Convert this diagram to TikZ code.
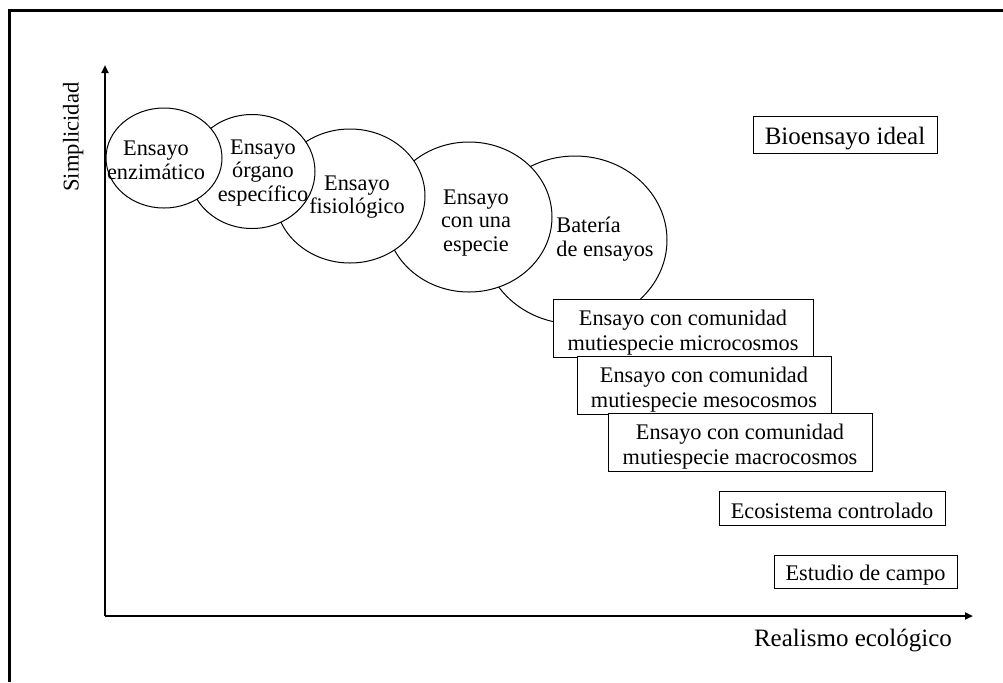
\documentclass[tikz,border=0pt]{standalone}
\usepackage{fontspec}
\setmainfont{Liberation Serif}
\usetikzlibrary{shapes.geometric,arrows.meta}

\tikzset{
  bubble/.style={ellipse, draw=black, line width=0.5pt, fill=white, inner sep=0pt, outer sep=0pt},
  stagebox/.style={rectangle, draw=black, line width=0.5pt, fill=white, inner sep=0pt, outer sep=0pt},
  boxtext/.style={align=center, inner sep=0pt, font=\fontsize{11.15}{12.5}\selectfont},
  bigtext/.style={boxtext, font=\fontsize{12.5}{14}\selectfont},
  bubbletext/.style={align=center, inner sep=0pt, font=\fontsize{11.15}{11.8}\selectfont},
  axis/.style={line width=1pt, -{Triangle[length=4pt,width=3.5pt]}},
  frame/.style={line width=1.5pt}
}

\begin{document}
\begin{tikzpicture}[x=0.5pt, y=-0.5pt]
  \useasboundingbox (0,0) rectangle (1003,682);

  % outer frame (left and top edges)
  \draw[frame] (9,682) -- (9,10) -- (1003,10);

  % axes
  \coordinate (origin) at (105,616);
  \coordinate (ytip) at (105,65);
  \coordinate (xtip) at (973,616);
  \draw[axis] (origin) -- (ytip);
  \draw[axis] (origin) -- (xtip);
  \node[rotate=90, anchor=base, inner sep=0pt, font=\fontsize{11.3}{13}\selectfont] (ylabel) at (78.5,137) {Simplicidad};
  \node[anchor=base, inner sep=0pt, font=\fontsize{12.5}{14}\selectfont] (xlabel) at (853,646) {Realismo ecológico};

  % overlapping bubbles, drawn from back to front
  \node[bubble, minimum width=92pt, minimum height=84pt] (bat) at (575,240) {};
  \node[bubble, minimum width=83pt, minimum height=75pt] (esp) at (469,217) {};
  \node[bubble, minimum width=75pt, minimum height=67pt] (fis) at (350,196) {};
  \node[bubble, minimum width=63pt, minimum height=57pt] (org) at (252,171.5) {};
  \node[bubble, minimum width=58pt, minimum height=50pt] (enz) at (164,158) {};

  % bubble labels
  \node[bubbletext] (tenz) at (156,160) {Ensayo\\enzimático};
  \node[bubbletext] (torg) at (263,173) {Ensayo\\órgano\\específico};
  \node[bubbletext] (tfis) at (357,197) {Ensayo\\fisiológico};
  \node[bubbletext] (tesp) at (476,223) {Ensayo\\con una\\especie};
  \node[bubbletext, align=left, anchor=west] (tbat) at (556,239) {Batería\\de ensayos};

  % boxed stages
  \node[stagebox, minimum width=92pt, minimum height=18.5pt] (ideal) at (845,134.5) {};
  \node[stagebox, minimum width=130pt, minimum height=29pt] (micro) at (683,328) {};
  \node[stagebox, minimum width=127pt, minimum height=29pt] (meso) at (704,385) {};
  \node[stagebox, minimum width=132pt, minimum height=29pt] (macro) at (740,442) {};
  \node[stagebox, minimum width=113pt, minimum height=17pt] (eco) at (832,508) {};
  \node[stagebox, minimum width=91.5pt, minimum height=16.5pt] (campo) at (865.5,571.5) {};

  \node[bigtext] (tideal) at ([yshift=-2.2pt]ideal.center) {Bioensayo ideal};
  \node[boxtext] (tmicro) at ([yshift=-2.5pt]micro.center) {Ensayo con comunidad\\mutiespecie microcosmos};
  \node[boxtext] (tmeso) at ([yshift=-2.5pt]meso.center) {Ensayo con comunidad\\mutiespecie mesocosmos};
  \node[boxtext] (tmacro) at ([yshift=-2.5pt]macro.center) {Ensayo con comunidad\\mutiespecie macrocosmos};
  \node[boxtext] (teco) at ([yshift=-1.5pt]eco.center) {Ecosistema controlado};
  \node[boxtext] (tcampo) at ([yshift=-1.8pt]campo.center) {Estudio de campo};
\end{tikzpicture}
\end{document}
